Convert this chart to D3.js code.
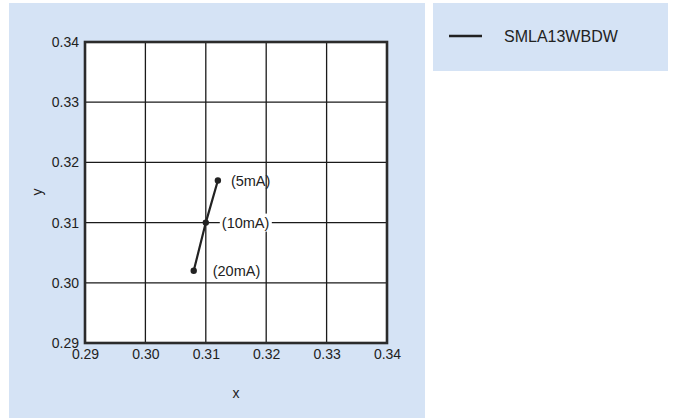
<!DOCTYPE html>
<html>
<head>
<meta charset="utf-8">
<script src="https://cdn.jsdelivr.net/npm/d3@7"></script>
<style>
  body { margin: 0; background: #fff; }
  text { font-family: "Liberation Sans", Arial, sans-serif; }
</style>
</head>
<body>
<div class="chart"></div>
<script>
// Chart data
var xTicks = [0.29, 0.30, 0.31, 0.32, 0.33, 0.34];
var yTicks = [0.29, 0.30, 0.31, 0.32, 0.33, 0.34];
var pointX = [0.312, 0.310, 0.308];
var pointY = [0.317, 0.310, 0.302];
var pointLabels = ["(5mA)", "(10mA)", "(20mA)"];
var seriesName = "SMLA13WBDW";

var svgWidth = 674;
var svgHeight = 419;

var margin = { top: 42, left: 85 };
var width = 302;
var height = 301;

var svg = d3.select(".chart")
            .append("svg")
            .attr("width", svgWidth)
            .attr("height", svgHeight);

// Background panels
svg.append("rect").attr("x", 9).attr("y", 3).attr("width", 416).attr("height", 415).attr("fill", "#d5e3f5");
svg.append("rect").attr("x", 433).attr("y", 3).attr("width", 235).attr("height", 68).attr("fill", "#d5e3f5");

var chartGroup = svg.append("g")
                    .attr("transform", `translate(${margin.left}, ${margin.top})`);

var xScale = d3.scaleLinear().domain([0.29, 0.34]).range([0, width]);
var yScale = d3.scaleLinear().domain([0.29, 0.34]).range([height, 0]);

chartGroup.append("rect").attr("width", width).attr("height", height).attr("fill", "#fff");

// Grid lines
chartGroup.selectAll(".vgrid")
          .data(xTicks.slice(1, -1))
          .enter()
          .append("line")
          .attr("x1", d => xScale(d)).attr("x2", d => xScale(d))
          .attr("y1", 0).attr("y2", height)
          .attr("stroke", "#1a1a1a").attr("stroke-width", 1.3);
chartGroup.selectAll(".hgrid")
          .data(yTicks.slice(1, -1))
          .enter()
          .append("line")
          .attr("y1", d => yScale(d)).attr("y2", d => yScale(d))
          .attr("x1", 0).attr("x2", width)
          .attr("stroke", "#1a1a1a").attr("stroke-width", 1.3);

// Axes (labels only)
var bottomAxis = d3.axisBottom(xScale).tickValues(xTicks).tickFormat(d3.format(".2f")).tickSize(0).tickPadding(6);
var leftAxis = d3.axisLeft(yScale).tickValues(yTicks).tickFormat(d3.format(".2f")).tickSize(0).tickPadding(6);

var gx = chartGroup.append("g").attr("transform", `translate(0, ${height})`).call(bottomAxis);
var gy = chartGroup.append("g").call(leftAxis);
[gx, gy].forEach(function(g) {
    g.select(".domain").remove();
    g.attr("font-family", null).attr("font-size", null);
    g.selectAll("text").attr("font-size", 14).attr("fill", "#222");
});

// Frame
chartGroup.append("rect").attr("width", width).attr("height", height)
          .attr("fill", "none").attr("stroke", "#2b2b2b").attr("stroke-width", 2.6);

// Axis titles
svg.append("text").attr("x", 236).attr("y", 398).attr("text-anchor", "middle")
   .attr("font-size", 14).attr("fill", "#222").text("x");
svg.append("text").attr("transform", "translate(42, 192) rotate(-90)").attr("text-anchor", "middle")
   .attr("font-size", 14).attr("fill", "#222").text("y");

// Series
var points = pointX.map((x, i) => ({ x: x, y: pointY[i], label: pointLabels[i] }));

chartGroup.append("path")
          .datum(points)
          .attr("d", d3.line().x(d => xScale(d.x)).y(d => yScale(d.y)))
          .attr("fill", "none").attr("stroke", "#222").attr("stroke-width", 2.2);

chartGroup.selectAll("circle")
          .data(points)
          .enter()
          .append("circle")
          .attr("cx", d => xScale(d.x)).attr("cy", d => yScale(d.y))
          .attr("r", 3.2).attr("fill", "#222");

var labelOffsets = [13, 16, 19];
var labels = chartGroup.selectAll(".pl")
          .data(points)
          .enter()
          .append("g")
          .attr("transform", (d, i) => `translate(${xScale(d.x) + labelOffsets[i]}, ${yScale(d.y)})`);
labels.append("rect")
      .attr("x", -2).attr("y", -9).attr("height", 18)
      .attr("width", (d, i) => i === 1 ? 52 : 0)
      .attr("fill", "#fff");
labels.append("text")
      .attr("dy", "0.35em").attr("font-size", 14.5).attr("fill", "#222")
      .text(d => d.label);

// Legend
svg.append("line").attr("x1", 449).attr("x2", 482).attr("y1", 36).attr("y2", 36)
   .attr("stroke", "#222").attr("stroke-width", 2.6);
svg.append("text").attr("x", 504).attr("y", 36).attr("dy", "0.35em")
   .attr("font-size", 16).attr("fill", "#222").text(seriesName);
</script>
</body>
</html>
